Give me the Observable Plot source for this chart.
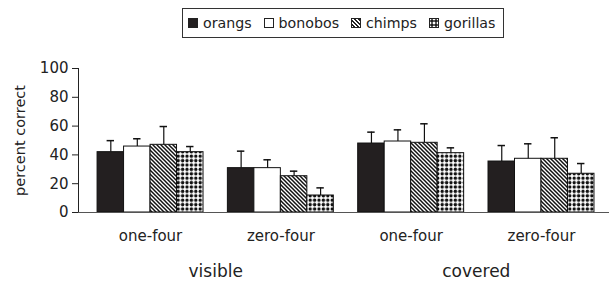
<!DOCTYPE html>
<html>
<head>
<meta charset="utf-8">
<script src="https://cdn.jsdelivr.net/npm/d3@7"></script>
<script src="https://cdn.jsdelivr.net/npm/@observablehq/plot@0.6"></script>
<style>
  html, body { margin: 0; padding: 0; background: #fff; }
  #wrap { position: relative; width: 611px; height: 282px; font-family: "DejaVu Sans", sans-serif; color: #222; }
  #legend { position: absolute; left: 182px; top: 8px; width: 322px; height: 30px; border: 1px solid #333;
            display: flex; align-items: center; box-sizing: border-box; padding-left: 5px; font-size: 14.2px; white-space: nowrap; }
  .item { display: flex; align-items: center; margin-right: 12px; }
  .sw { width: 10px; height: 10px; margin-right: 5px; box-sizing: border-box; border: 1px solid #222; }
  #chart { position: absolute; left: 0; top: 0; }
</style>
</head>
<body>
<div id="wrap">
  <div id="chart"></div>
  <div id="legend"></div>
</div>
<script>
// ---- data ----
const conditions = ["visible", "covered"];
const tasks = ["one-four", "zero-four"];
const species = ["orangs", "bonobos", "chimps", "gorillas"];
// group order: visible one-four, visible zero-four, covered one-four, covered zero-four
const orangs   = [41.9, 30.8, 47.9, 35.4];
const bonobos  = [45.8, 30.8, 49.3, 37.3];
const chimps   = [47.0, 25.2, 48.4, 37.3];
const gorillas = [41.9, 11.8, 41.2, 26.9];
const orangsErr   = [8.0, 11.8, 7.9, 11.1];
const bonobosErr  = [5.4, 5.8, 8.1, 10.4];
const chimpsErr   = [12.7, 3.5, 13.2, 14.6];
const gorillasErr = [3.9, 5.3, 3.7, 7.1];
const yTicks = [0, 20, 40, 60, 80, 100];

const means = [orangs, bonobos, chimps, gorillas];
const errs = [orangsErr, bonobosErr, chimpsErr, gorillasErr];
const fills = ["#231f20", "#ffffff", "url(#hatch)", "url(#dots)"];
const legendFills = ["#231f20", "#ffffff",
  "repeating-linear-gradient(45deg, #fff 0 1.4px, #222 1.4px 2.8px)",
  "radial-gradient(circle, #222 1.5px, #fff 1.8px) 0 0 / 4px 4px"];

const STRIDE = 4.92; // group step, in bar widths
const groups = [];
conditions.forEach((c, ci) => tasks.forEach((t, ti) => groups.push({cond: c, task: t, g: ci * 2 + ti})));

const rows = [];
species.forEach((s, i) => groups.forEach(gr => {
  const x1 = gr.g * STRIDE + i;
  rows.push({species: s, si: i, g: gr.g, x1, x2: x1 + 1, xc: x1 + 0.5,
             value: means[i][gr.g], top: means[i][gr.g] + errs[i][gr.g]});
}));

const groupCenters = groups.map(gr => gr.g * STRIDE + species.length / 2);
const taskLabel = new Map(groups.map((gr, k) => [groupCenters[k], gr.task]));
const condCenters = conditions.map((c, ci) => (groupCenters[ci * 2] + groupCenters[ci * 2 + 1]) / 2);
const condLabel = new Map(conditions.map((c, ci) => [condCenters[ci], c]));

const lastEdge = groupCenters[groupCenters.length - 1] + species.length / 2;

const marks = [];
species.forEach((s, i) => {
  marks.push(Plot.rectY(rows.filter(r => r.si === i), {
    x1: "x1", x2: "x2", y1: 0, y2: "value", fill: fills[i], stroke: "#111", strokeWidth: 1
  }));
});
marks.push(
  Plot.ruleX(rows, {x: "xc", y1: "value", y2: "top", stroke: "#111", strokeWidth: 1.2}),
  Plot.ruleY(rows, {y: "top", x1: d => d.xc - 0.14, x2: d => d.xc + 0.14, stroke: "#111", strokeWidth: 1.5}),
  Plot.frame({anchor: "left", stroke: "#222"}),
  Plot.frame({anchor: "bottom", stroke: "#555"}),
  Plot.axisY(yTicks, {tickSize: 6, tickPadding: 4, fontSize: 15, label: null}),
  Plot.text(["percent correct"], {frameAnchor: "left", textAnchor: "middle", rotate: -90, dx: -58, fontSize: 14.5, fill: "#222"}),
  Plot.axisX(groupCenters, {tickSize: 0, tickPadding: 18, fontSize: 15, label: null, tickFormat: d => taskLabel.get(d)}),
  Plot.axisX(condCenters, {tickSize: 0, tickPadding: 52, fontSize: 17, label: null, tickFormat: d => condLabel.get(d)})
);

const svg = Plot.plot({
  width: 611,
  height: 282,
  marginLeft: 78,
  marginRight: 3,
  marginTop: 68,
  marginBottom: 70,
  style: {fontFamily: "DejaVu Sans, sans-serif", color: "#222", background: "#fff"},
  x: {type: "linear", domain: [-0.72, lastEdge + 0.53]},
  y: {domain: [0, 100]},
  marks
});

// patterns
const defs = d3.select(svg).insert("defs", ":first-child");
const hatch = defs.append("pattern").attr("id", "hatch").attr("patternUnits", "userSpaceOnUse")
  .attr("width", 4).attr("height", 4);
hatch.append("rect").attr("width", 4).attr("height", 4).attr("fill", "#fff");
hatch.append("path").attr("d", "M-1,-1L5,5M-1,3L1,5M3,-1L5,1").attr("stroke", "#111").attr("stroke-width", 1.5);
const dots = defs.append("pattern").attr("id", "dots").attr("patternUnits", "userSpaceOnUse")
  .attr("width", 4.4).attr("height", 4.4);
dots.append("rect").attr("width", 4.4).attr("height", 4.4).attr("fill", "#fff");
dots.append("circle").attr("cx", 2.2).attr("cy", 2.2).attr("r", 1.7).attr("fill", "#111");

document.getElementById("chart").appendChild(svg);

// legend
const legend = d3.select("#legend");
species.forEach((s, i) => {
  const it = legend.append("div").attr("class", "item");
  it.append("div").attr("class", "sw").style("background", legendFills[i]);
  it.append("span").text(s);
});
</script>
</body>
</html>
